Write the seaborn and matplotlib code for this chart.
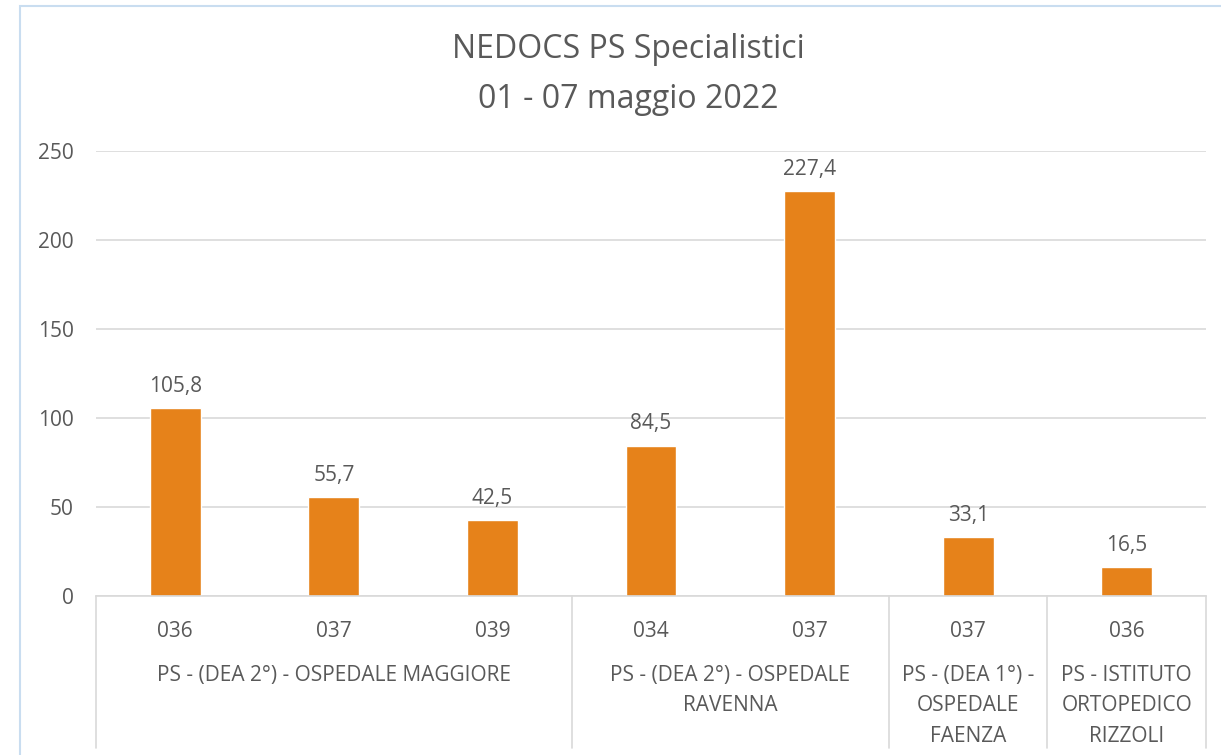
import matplotlib
matplotlib.use("Agg")
import matplotlib.pyplot as plt
import matplotlib.transforms as mtransforms
from matplotlib.patches import Rectangle
import pandas as pd
import seaborn as sns

# --- dati ---------------------------------------------------------------
codici = ["036", "037", "039", "034", "037", "037", "036"]
valori = [105.8, 55.7, 42.5, 84.5, 227.4, 33.1, 16.5]
gruppi = ["PS - (DEA 2°) - OSPEDALE MAGGIORE",
          "PS - (DEA 2°) - OSPEDALE\nRAVENNA",
          "PS - (DEA 1°) -\nOSPEDALE\nFAENZA",
          "PS - ISTITUTO\nORTOPEDICO\nRIZZOLI"]
dim_gruppi = [3, 2, 1, 1]
y_ticks = [0, 50, 100, 150, 200, 250]

ARANCIO = "#E6821A"
GRIGIO = "#595959"
FS = 15

sns.set_theme(style="white")
plt.rcParams["font.family"] = ["Open Sans", "DejaVu Sans"]

df = pd.DataFrame({"pos": [str(i) for i in range(len(valori))],
                   "codice": codici, "valore": valori})

fig = plt.figure(figsize=(12.21, 7.55), dpi=100)
W, H = 1221, 755
ax = fig.add_axes([96 / W, 1 - 596 / H, (1206 - 96) / W, (596 - 151) / H])

sns.barplot(data=df, x="pos", y="valore", color=ARANCIO, width=0.32,
            saturation=1, ax=ax)
ax.set_ylim(0, 250)
ax.set_xlim(-0.5, len(valori) - 0.5)
ax.set_yticks(y_ticks)
ax.set_yticklabels([str(t) for t in y_ticks])
ax.yaxis.grid(True, color="#D9D9D9", lw=1.2)
ax.set_axisbelow(True)
for s in ["top", "right", "left"]:
    ax.spines[s].set_visible(False)
ax.spines["bottom"].set_color("#D9D9D9")
ax.spines["bottom"].set_linewidth(1.2)
ax.tick_params(axis="y", length=0, pad=16, labelsize=FS, labelcolor=GRIGIO)
ax.tick_params(axis="x", length=0, pad=18, labelsize=FS, labelcolor=GRIGIO)
ax.set_xticks(range(len(codici)))
ax.set_xticklabels(codici)
ax.set_xlabel("")
ax.set_ylabel("")

ax.bar_label(ax.containers[0],
             labels=[f"{v:.1f}".replace(".", ",") for v in valori],
             padding=8, fontsize=FS, color=GRIGIO)

# etichette di gruppo e separatori verticali
trans = mtransforms.blended_transform_factory(ax.transData, ax.transAxes)
bordi = [-0.5]
for n in dim_gruppi:
    bordi.append(bordi[-1] + n)
for b in bordi:
    ax.plot([b, b], [0, -(748 - 596) / (596 - 151)], transform=trans,
            color="#D9D9D9", lw=1.2, clip_on=False)
for i, g in enumerate(gruppi):
    centro = (bordi[i] + bordi[i + 1]) / 2
    ax.text(centro, -(665 - 596) / (596 - 151), g, transform=trans,
            ha="center", va="top", fontsize=FS, color=GRIGIO,
            linespacing=1.58)

fig.text(628 / W, 1 - 50 / H, "NEDOCS PS Specialistici", ha="center",
         va="center", fontsize=23, color=GRIGIO)
fig.text(628 / W, 1 - 100 / H, "01 - 07 maggio 2022", ha="center",
         va="center", fontsize=23, color=GRIGIO)

# cornice del grafico
fig.patches.append(Rectangle((20 / W, -0.1), 1.2, 1 - 6 / H + 0.1,
                             transform=fig.transFigure, fill=False,
                             edgecolor="#C9DDF0", lw=1.5))

fig.savefig("out.png", dpi=100)
